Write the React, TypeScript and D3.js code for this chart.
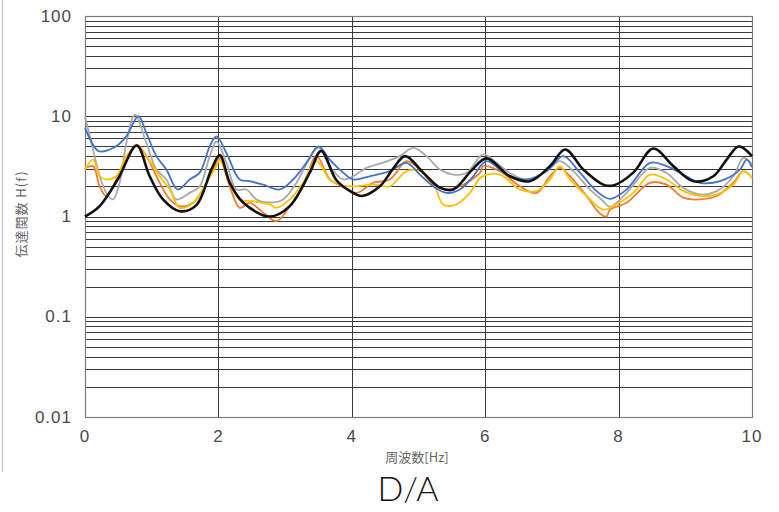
import React from "react";
import * as d3 from "d3";

const xTicks = [0, 2, 4, 6, 8, 10];
const yTicks = [0.01, 0.1, 1, 10, 100];
const yTickLabels = ["0.01", "0.1", "1", "10", "100"];

const theoryData: [number, number][] = [
  [0, 1.0], [0.22, 1.27], [0.5, 2.4], [0.775, 5.1], [0.97, 2.52], [1.17, 1.48], [1.42, 1.13],
  [1.67, 1.3], [1.9, 3.0], [2.02, 4.1], [2.17, 2.18], [2.37, 1.38], [2.77, 1.0],
  [3.07, 1.27], [3.37, 2.74], [3.54, 4.5], [3.77, 2.3], [3.97, 1.8], [4.15, 1.6],
  [4.42, 2.0], [4.62, 3.0], [4.8, 4.0], [5.07, 2.74], [5.32, 1.94], [5.52, 1.86],
  [5.8, 2.9], [6.02, 3.8], [6.37, 2.52], [6.67, 2.25], [6.97, 3.18], [7.2, 4.66],
  [7.47, 2.94], [7.77, 2.08], [7.92, 2.04], [8.22, 2.74], [8.52, 4.76], [8.82, 3.18],
  [9.12, 2.25], [9.42, 2.52], [9.62, 3.7], [9.8, 5.0], [10, 4.0],
];

const blueData: [number, number][] = [
  [0, 7.7], [0.2, 4.5], [0.37, 4.66], [0.5, 5.2], [0.62, 6.3], [0.8, 10], [0.92, 6.8],
  [1.07, 4.0], [1.22, 2.94], [1.39, 1.86], [1.57, 2.34], [1.72, 2.74], [1.87, 5.0],
  [1.97, 6.3], [2.12, 4.3], [2.32, 2.34], [2.47, 2.25], [2.67, 2.08], [2.92, 1.86],
  [3.12, 2.34], [3.32, 3.43], [3.5, 5.0], [3.67, 3.7], [3.87, 2.74], [4.02, 2.34],
  [4.27, 2.52], [4.57, 2.83], [4.82, 3.43], [5.02, 2.62], [5.22, 2.0], [5.42, 1.72],
  [5.62, 1.86], [5.82, 2.52], [6.02, 3.56], [6.32, 2.62], [6.62, 2.34], [6.92, 2.83],
  [7.17, 4.0], [7.42, 2.74], [7.67, 1.79], [7.87, 1.5], [8.12, 1.86], [8.47, 3.43],
  [8.72, 3.18], [8.97, 2.62], [9.22, 2.17], [9.52, 2.25], [9.82, 2.94], [9.92, 3.7], [10, 3.1],
];

const greyData: [number, number][] = [
  [0, 10], [0.12, 4.66], [0.22, 2.52], [0.32, 1.72], [0.42, 1.48], [0.52, 2.17],
  [0.62, 5.4], [0.75, 10.4], [0.92, 5.4], [1.07, 2.94], [1.22, 2.34], [1.37, 1.48],
  [1.57, 1.72], [1.72, 2.0], [1.87, 4.0], [1.97, 5.6], [2.12, 3.43], [2.27, 1.86],
  [2.42, 1.86], [2.57, 1.48], [2.77, 1.38], [2.97, 1.48], [3.17, 2.17], [3.37, 3.85],
  [3.5, 4.88], [3.67, 3.18], [3.87, 2.34], [4.02, 2.52], [4.22, 3.06], [4.47, 3.45],
  [4.72, 4.0], [4.92, 4.83], [5.12, 4.0], [5.32, 2.94], [5.52, 2.62], [5.72, 2.72],
  [5.97, 4.16], [6.17, 3.43], [6.37, 2.72], [6.62, 2.34], [6.92, 2.83], [7.12, 3.56],
  [7.32, 2.83], [7.57, 1.86], [7.77, 1.42], [7.87, 1.25], [8.12, 1.72], [8.47, 3.06],
  [8.72, 2.72], [8.97, 1.93], [9.22, 1.66], [9.47, 1.79], [9.72, 2.52], [9.87, 3.85], [10, 3.3],
];

const orangeData: [number, number][] = [
  [0, 3.0], [0.12, 3.18], [0.22, 2.0], [0.32, 1.6], [0.47, 2.34], [0.62, 3.7],
  [0.77, 5.2], [0.92, 4.0], [1.12, 2.17], [1.27, 1.48], [1.42, 1.27], [1.62, 1.37],
  [1.82, 2.17], [1.97, 3.43], [2.02, 3.85], [2.17, 2.0], [2.32, 1.22], [2.47, 1.37],
  [2.62, 1.17], [2.87, 0.9], [3.07, 1.27], [3.27, 2.0], [3.47, 4.0], [3.67, 2.34],
  [3.82, 2.05], [4.07, 1.72], [4.32, 2.17], [4.57, 2.34], [4.82, 3.56], [5.02, 2.94],
  [5.22, 2.08], [5.42, 1.86], [5.62, 2.0], [5.92, 2.72], [5.97, 3.18], [6.22, 2.83],
  [6.52, 2.0], [6.77, 1.72], [6.97, 2.52], [7.12, 3.06], [7.27, 2.52], [7.52, 1.6],
  [7.72, 1.07], [7.82, 1.0], [7.87, 1.17], [8.12, 1.37], [8.47, 2.17], [8.72, 2.08],
  [8.97, 1.54], [9.22, 1.48], [9.47, 1.6], [9.72, 2.17], [9.87, 2.83], [10, 2.43],
];

const yellowData: [number, number][] = [
  [0, 2.94], [0.12, 3.7], [0.22, 2.52], [0.32, 2.34], [0.47, 2.52], [0.62, 4.0],
  [0.77, 5.0], [0.92, 4.0], [1.12, 2.52], [1.27, 1.86], [1.42, 1.22], [1.62, 1.37],
  [1.82, 2.17], [1.97, 3.2], [2.02, 3.7], [2.17, 2.17], [2.32, 1.48], [2.52, 1.42],
  [2.77, 1.32], [2.87, 1.22], [3.07, 1.48], [3.27, 2.17], [3.47, 3.56], [3.67, 2.34],
  [3.85, 2.04], [4.07, 2.0], [4.32, 2.08], [4.57, 2.0], [4.82, 2.83], [5.02, 2.83],
  [5.22, 2.17], [5.37, 1.32], [5.57, 1.32], [5.77, 1.72], [5.95, 2.5], [6.22, 2.62],
  [6.52, 1.86], [6.77, 1.79], [6.97, 2.34], [7.12, 3.18], [7.27, 2.34], [7.52, 1.6],
  [7.77, 1.17], [7.92, 1.27], [8.22, 1.72], [8.47, 2.62], [8.72, 2.34], [8.97, 1.79],
  [9.22, 1.6], [9.47, 1.66], [9.72, 2.08], [9.87, 2.83], [10, 2.43],
];

const series = [
  { name: "grey", data: greyData, color: "#a9a9a9", width: 1.8 },
  { name: "orange", data: orangeData, color: "#ed7d31", width: 1.8 },
  { name: "yellow", data: yellowData, color: "#ffc000", width: 1.8 },
  { name: "blue", data: blueData, color: "#4472c4", width: 1.8 },
  { name: "theory", data: theoryData, color: "#111111", width: 2.6 },
];

export default function App() {
  const W = 779, H = 512;
  const left = 85, right = 752, top = 16, bottom = 417;
  const x = d3.scaleLinear().domain([0, 10]).range([left, right]);
  const y = d3.scaleLog().domain([0.01, 100]).range([bottom, top]);

  const minor: number[] = [];
  for (let e = -2; e < 2; e++) {
    for (let m = 1; m <= 9; m++) minor.push(m * Math.pow(10, e));
  }

  const line = d3
    .line<[number, number]>()
    .x((d) => x(d[0]))
    .y((d) => y(d[1]))
    .curve(d3.curveCatmullRom.alpha(0.5));

  const tickFont = "'Liberation Sans', Arial, sans-serif";

  return (
    <svg
      width={W}
      height={H}
      style={{ position: "absolute", left: 0, top: 0, background: "#fff" }}
    >
      <rect x={0} y={0} width={W} height={H} fill="#fff" />
      <line x1={2.5} x2={2.5} y1={0} y2={472} stroke="#c8c8c8" strokeWidth={1.5} />
      {minor.map((v, i) => (
        <line
          key={"h" + i}
          x1={left}
          x2={right}
          y1={Math.round(y(v)) + 0.5}
          y2={Math.round(y(v)) + 0.5}
          stroke="#3a3a3a"
          strokeWidth={1}
        />
      ))}
      {xTicks.slice(1, -1).map((t) => (
        <line
          key={"v" + t}
          x1={Math.round(x(t)) + 0.5}
          x2={Math.round(x(t)) + 0.5}
          y1={top}
          y2={bottom}
          stroke="#3a3a3a"
          strokeWidth={1}
        />
      ))}
      <rect
        x={left + 0.5}
        y={top + 0.5}
        width={right - left}
        height={bottom - top}
        fill="none"
        stroke="#7a7a7a"
        strokeWidth={1.2}
      />
      {series.map((s) => (
        <path
          key={s.name}
          d={line(s.data) || ""}
          fill="none"
          stroke={s.color}
          strokeWidth={s.width}
          strokeLinejoin="round"
        />
      ))}
      {yTicks.map((t, i) => (
        <text
          key={"yt" + t}
          x={72}
          y={y(t)}
          textAnchor="end"
          dominantBaseline="central"
          fontFamily={tickFont}
          fontSize={17}
          letterSpacing={1}
          fill="#4a4a4a"
        >
          {yTickLabels[i]}
        </text>
      ))}
      {xTicks.map((t) => (
        <text
          key={"xt" + t}
          x={x(t)}
          y={436}
          textAnchor="middle"
          dominantBaseline="central"
          fontFamily={tickFont}
          fontSize={17}
          letterSpacing={1}
          fill="#4a4a4a"
        >
          {t}
        </text>
      ))}
      <text
        transform="translate(20,214) rotate(-90)"
        textAnchor="middle"
        dominantBaseline="central"
        fontFamily="'Noto Sans CJK JP', sans-serif"
        fontSize={13}
        letterSpacing={1}
        fill="#666"
      >
        伝達関数 H(f)
      </text>
      <text
        x={417}
        y={456}
        textAnchor="middle"
        dominantBaseline="central"
        fontFamily="'Noto Sans CJK JP', sans-serif"
        fontSize={13}
        fill="#666"
      >
        周波数[Hz]
      </text>
      <text
        x={408}
        y={501}
        textAnchor="middle"
        fontFamily="Lato, 'Open Sans', sans-serif"
        fontWeight={300}
        fontSize={34}
        fill="#111"
      >
        D/A
      </text>
    </svg>
  );
}
